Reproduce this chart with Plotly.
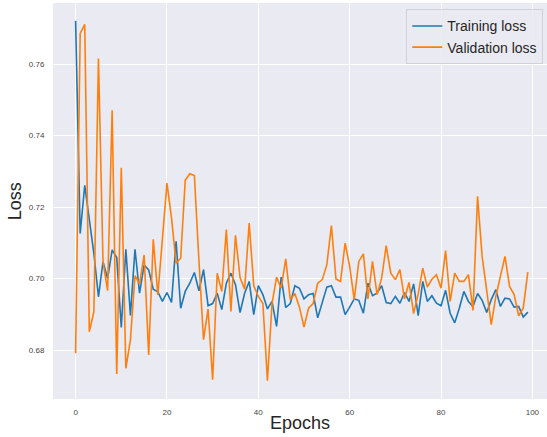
import plotly.graph_objects as go

# Per-epoch loss values
epochs = list(range(100))

training_loss = [
    0.7721, 0.7126, 0.7261, 0.7159, 0.7070, 0.6949, 0.7047, 0.7000, 0.7080, 0.7059,
    0.6863, 0.7082, 0.6897, 0.7082, 0.6959, 0.7038, 0.7024, 0.6970, 0.6963, 0.6936,
    0.6961, 0.6933, 0.7104, 0.6917, 0.6964, 0.6987, 0.7017, 0.6966, 0.7025, 0.6924,
    0.6930, 0.6959, 0.6913, 0.6987, 0.7015, 0.6983, 0.6905, 0.6959, 0.6992, 0.6899,
    0.6980, 0.6955, 0.6915, 0.6936, 0.6866, 0.7004, 0.6919, 0.6930, 0.6980, 0.6973,
    0.6943, 0.6955, 0.6958, 0.6890, 0.6936, 0.6976, 0.6980, 0.6948, 0.6948, 0.6899,
    0.6920, 0.6943, 0.6939, 0.6903, 0.6987, 0.6952, 0.6959, 0.6980, 0.6933, 0.6930,
    0.6950, 0.6931, 0.6961, 0.6936, 0.6985, 0.6896, 0.6992, 0.6936, 0.6952, 0.6931,
    0.6924, 0.6967, 0.6903, 0.6876, 0.6917, 0.6964, 0.6936, 0.6922, 0.6958, 0.6939,
    0.6905, 0.6941, 0.6969, 0.6922, 0.6945, 0.6943, 0.6920, 0.6922, 0.6892, 0.6906,
]

validation_loss = [
    0.6791, 0.7686, 0.7711, 0.6851, 0.6907, 0.7616, 0.7047, 0.6966, 0.7471, 0.6733,
    0.7310, 0.6749, 0.6828, 0.7008, 0.6985, 0.7066, 0.6786, 0.7110, 0.6954, 0.7110,
    0.7267, 0.7170, 0.7043, 0.7057, 0.7275, 0.7293, 0.7288, 0.7050, 0.6829, 0.6915,
    0.6717, 0.7015, 0.6964, 0.7137, 0.6908, 0.7121, 0.7003, 0.6970, 0.7155, 0.6980,
    0.6950, 0.6930, 0.6714, 0.6930, 0.7004, 0.6973, 0.7055, 0.6941, 0.6958, 0.6920,
    0.6864, 0.6917, 0.6930, 0.6987, 0.6997, 0.7039, 0.7148, 0.6999, 0.6992, 0.7099,
    0.7034, 0.6941, 0.7048, 0.7069, 0.6943, 0.7048, 0.6955, 0.7001, 0.7092, 0.7015,
    0.6997, 0.7025, 0.6943, 0.6989, 0.6902, 0.6957, 0.7029, 0.6976, 0.6998, 0.7011,
    0.6973, 0.7078, 0.6936, 0.7015, 0.6992, 0.6992, 0.7011, 0.6911, 0.7230, 0.7062,
    0.6964, 0.6871, 0.6950, 0.7006, 0.7062, 0.6978, 0.6955, 0.6896, 0.6917, 0.7018,
]

x_ticks = [0, 20, 40, 60, 80, 100]
y_ticks = [0.68, 0.70, 0.72, 0.74, 0.76]
y_tick_labels = ["0.68", "0.70", "0.72", "0.74", "0.76"]

FONT = "Liberation Sans, Arial, sans-serif"
TEXT = "#262626"

fig = go.Figure()
fig.add_trace(go.Scatter(
    x=epochs, y=training_loss, mode="lines", name="Training loss",
    line=dict(color="#1f77b4", width=1.6),
))
fig.add_trace(go.Scatter(
    x=epochs, y=validation_loss, mode="lines", name="Validation loss",
    line=dict(color="#ff7f0e", width=1.6),
))

fig.update_layout(
    width=547, height=437,
    margin=dict(l=53, r=0, t=3, b=38),
    paper_bgcolor="white",
    plot_bgcolor="#EAEAF2",
    font=dict(family=FONT, color=TEXT),
    showlegend=True,
    legend=dict(
        x=0.9925, y=0.984, xanchor="right", yanchor="top",
        bgcolor="rgba(234,234,242,0.85)", bordercolor="#d0d0d6", borderwidth=1,
        font=dict(size=14, color=TEXT, family=FONT),
        itemwidth=30, tracegroupgap=0,
    ),
    xaxis=dict(
        range=[-4.95, 103.2], tickvals=x_ticks,
        showgrid=True, gridcolor="white", gridwidth=1.3,
        zeroline=False, showline=False,
        ticks="outside", ticklen=5, tickcolor="rgba(0,0,0,0)",
        tickfont=dict(size=8, color="#444444"),
    ),
    yaxis=dict(
        range=[0.6663, 0.7771], tickvals=y_ticks, ticktext=y_tick_labels,
        showgrid=True, gridcolor="white", gridwidth=1.3,
        zeroline=False, showline=False,
        ticks="outside", ticklen=6, tickcolor="rgba(0,0,0,0)",
        tickfont=dict(size=8, color="#444444"),
    ),
    annotations=[
        dict(text="Epochs", xref="paper", yref="paper", x=0.5, y=-0.0616,
             xanchor="center", yanchor="middle", showarrow=False,
             font=dict(size=18, color=TEXT, family=FONT)),
        dict(text="Loss", xref="paper", yref="paper", x=-0.0765, y=0.5,
             xanchor="center", yanchor="middle", showarrow=False, textangle=-90,
             font=dict(size=18, color=TEXT, family=FONT)),
    ],
)

fig.write_html("out.html")
